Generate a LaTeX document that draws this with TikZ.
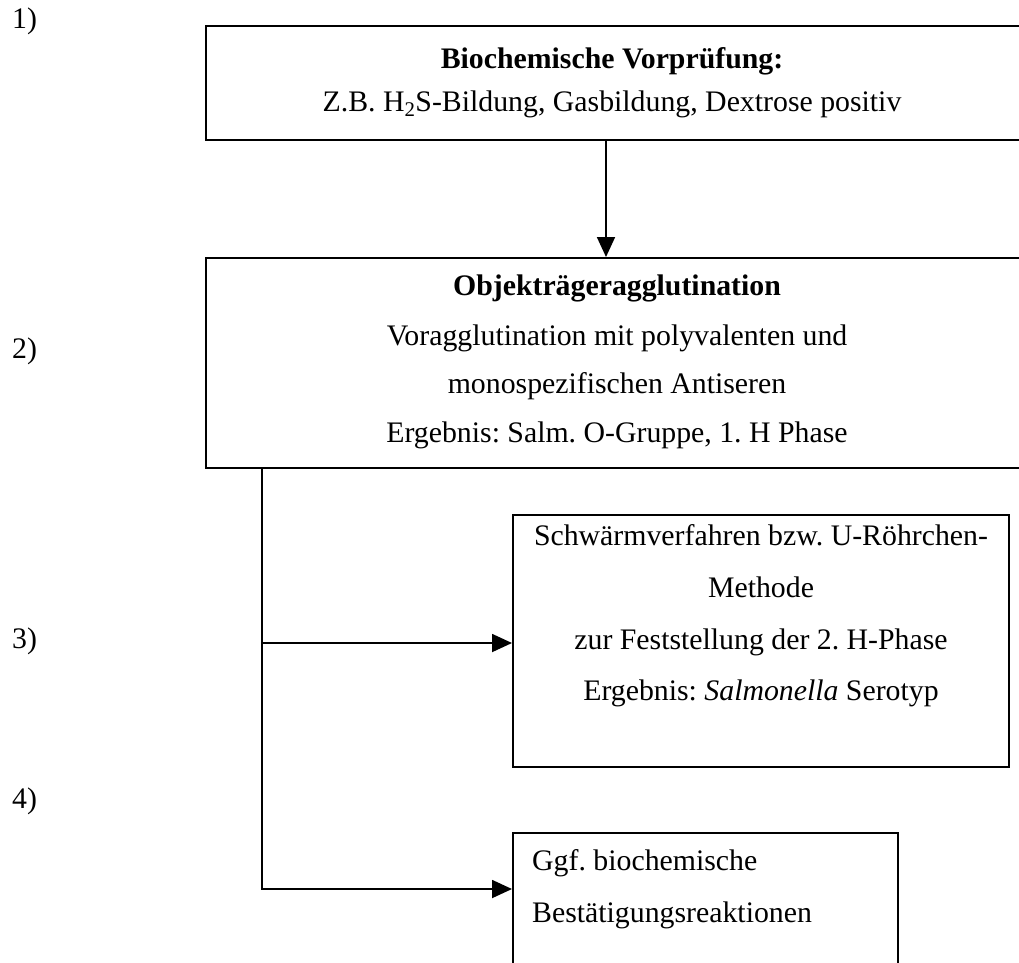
\documentclass[tikz,border=0pt]{standalone}
\usepackage{fontspec}
\setmainfont{Liberation Serif}
\usetikzlibrary{arrows.meta}
\frenchspacing
\begin{document}
\begin{tikzpicture}[x=1pt,y=-1pt,
  box/.style={draw, line width=1.8pt, inner sep=0pt, anchor=north west},
  txt/.style={inner sep=0pt, anchor=base, font=\fontsize{29.8}{35}\selectfont},
  ltxt/.style={inner sep=0pt, anchor=base west, font=\fontsize{29.8}{35}\selectfont},
  conn/.style={line width=1.8pt, -{Triangle[length=20pt,width=18pt]}},
  plain/.style={line width=1.8pt}]
\useasboundingbox (0,0) rectangle (1019,962);
\begin{scope}
\clip (0,0) rectangle (1019,962);
\node[box, minimum width=830pt, minimum height=114pt] (b1) at (205,25) {};
\node[box, minimum width=830pt, minimum height=210pt] (b2) at (205,257) {};
\node[box, minimum width=496pt, minimum height=252pt] (b3) at (512,514) {};
\node[box, minimum width=385pt, minimum height=200pt] (b4) at (512,832) {};

\coordinate (a1) at (606,139);
\coordinate (j3) at (262,643);
\coordinate (j4) at (262,889);
\draw[conn] (a1) -- (a1 |- b2.north);
\draw[conn] (b2.south -| j3) -- (j4) -- (j4 -| b4.west);
\draw[conn] (j3) -- (j3 -| b3.west);
\end{scope}

% labels
\node[ltxt] (l1) at (12,28) {1)};
\node[ltxt] (l2) at (12,358) {2)};
\node[ltxt] (l3) at (12,648) {3)};
\node[ltxt] (l4) at (12,808) {4)};

% box 1
\node[txt] (t1a) at (612,68) {\textbf{Biochemische Vorprüfung:}};
\node[txt] (t1b) at (612,111) {Z.B. H\textsubscript{2}S-Bildung, Gasbildung, Dextrose positiv};

% box 2
\node[txt] (t2a) at (617,295) {\textbf{Objekträgeragglutination}};
\node[txt] (t2b) at (617,345) {Voragglutination mit polyvalenten und};
\node[txt] (t2c) at (617,393) {monospezifischen Antiseren};
\node[txt] (t2d) at (617,442) {Ergebnis: Salm. O-Gruppe, 1. H Phase};

% box 3
\node[txt] (t3a) at (761,545) {Schwärmverfahren bzw. U-Röhrchen-};
\node[txt] (t3b) at (761,597) {Methode};
\node[txt] (t3c) at (761,649) {zur Feststellung der 2. H-Phase};
\node[txt] (t3d) at (761,700) {Ergebnis: \textit{Salmonella} Serotyp};

% box 4
\node[ltxt] (t4a) at (532,870) {Ggf. biochemische};
\node[ltxt] (t4b) at (532,922) {Bestätigungsreaktionen};
\end{tikzpicture}
\end{document}
